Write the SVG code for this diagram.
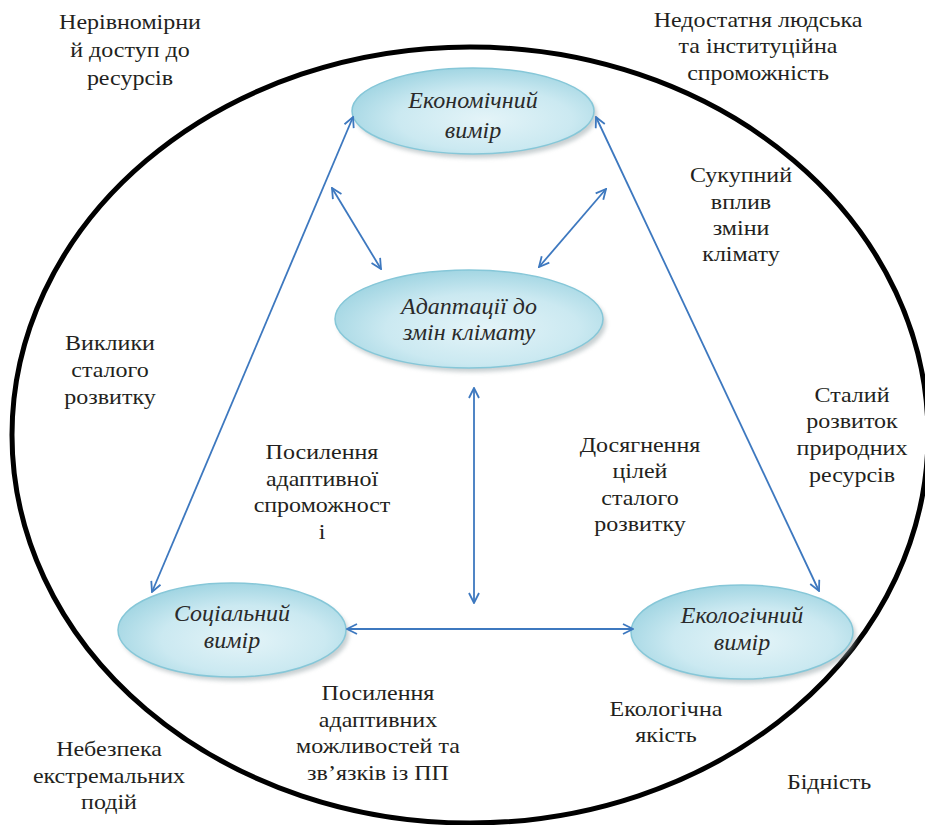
<svg xmlns="http://www.w3.org/2000/svg" width="925" height="825" viewBox="0 0 925 825">
<defs>
<radialGradient id="g" cx="0.55" cy="0.6" r="0.6">
<stop offset="0" stop-color="#e4f4f8"/>
<stop offset="0.6" stop-color="#cbe9f1"/>
<stop offset="1" stop-color="#a3d6e3"/>
</radialGradient>
<filter id="b" x="-10%" y="-10%" width="120%" height="130%"><feGaussianBlur stdDeviation="2"/></filter>
<marker id="a" viewBox="0 0 12 12" refX="11" refY="6" markerWidth="12" markerHeight="12" markerUnits="userSpaceOnUse" orient="auto-start-reverse">
<path d="M1,1 L11,6 L1,11" fill="none" stroke="#3d78bf" stroke-width="1.8"/>
</marker>
</defs>
<rect width="925" height="825" fill="#fff"/>
<ellipse cx="470" cy="435" rx="458" ry="388" fill="none" stroke="#000" stroke-width="5"/>

<g id="labels" font-family="Liberation Serif" font-size="20" fill="#231f20" text-anchor="middle" transform="scale(1.2,1)">
<text x="108.33" y="29">Нерівномірни</text>
<text x="108.33" y="57">й доступ до</text>
<text x="108.33" y="85">ресурсів</text>
<text x="631.67" y="27">Недостатня людська</text>
<text x="631.67" y="53">та інституційна</text>
<text x="631.67" y="80">спроможність</text>
<text x="617.5" y="182">Сукупний</text>
<text x="617.5" y="209">вплив</text>
<text x="617.5" y="235">зміни</text>
<text x="617.5" y="261">клімату</text>
<text x="91.67" y="350">Виклики</text>
<text x="91.67" y="377">сталого</text>
<text x="91.67" y="404">розвитку</text>
<text x="268.33" y="459">Посилення</text>
<text x="268.33" y="486">адаптивної</text>
<text x="268.33" y="512">спроможност</text>
<text x="268.33" y="539">і</text>
<text x="533.33" y="452">Досягнення</text>
<text x="533.33" y="478">цілей</text>
<text x="533.33" y="505">сталого</text>
<text x="533.33" y="531">розвитку</text>
<text x="710" y="402">Сталий</text>
<text x="710" y="428">розвиток</text>
<text x="710" y="455">природних</text>
<text x="710" y="482">ресурсів</text>
<text x="315" y="700">Посилення</text>
<text x="315" y="727">адаптивних</text>
<text x="315" y="753">можливостей та</text>
<text x="315" y="780">зв’язків із ПП</text>
<text x="555" y="716">Екологічна</text>
<text x="555" y="742">якість</text>
<text x="90.83" y="756">Небезпека</text>
<text x="90.83" y="783">екстремальних</text>
<text x="90.83" y="809">подій</text>
<text x="690.83" y="789">Бідність</text>
</g>

<g id="econ">
<ellipse cx="476" cy="115" rx="121" ry="43" fill="#9aa7ab" opacity="0.55" filter="url(#b)"/>
<ellipse cx="473" cy="111" rx="121" ry="43" fill="url(#g)" stroke="#86c7d8" stroke-width="1.5"/>
<text font-family="Liberation Serif" font-size="24" font-style="italic" fill="#2a2a2a" text-anchor="middle" x="473" y="108">Економічний</text>
<text font-family="Liberation Serif" font-size="24" font-style="italic" fill="#2a2a2a" text-anchor="middle" x="473" y="138">вимір</text>
</g>
<g id="adapt">
<ellipse cx="472" cy="323" rx="134" ry="49" fill="#9aa7ab" opacity="0.55" filter="url(#b)"/>
<ellipse cx="469" cy="319" rx="134" ry="49" fill="url(#g)" stroke="#86c7d8" stroke-width="1.5"/>
<text font-family="Liberation Serif" font-size="24" font-style="italic" fill="#2a2a2a" text-anchor="middle" x="469" y="314">Адаптації до</text>
<text font-family="Liberation Serif" font-size="24" font-style="italic" fill="#2a2a2a" text-anchor="middle" x="469" y="340">змін клімату</text>
</g>
<g id="social">
<ellipse cx="235" cy="634" rx="114" ry="47" fill="#9aa7ab" opacity="0.55" filter="url(#b)"/>
<ellipse cx="232" cy="630" rx="114" ry="47" fill="url(#g)" stroke="#86c7d8" stroke-width="1.5"/>
<text font-family="Liberation Serif" font-size="24" font-style="italic" fill="#2a2a2a" text-anchor="middle" x="232" y="621">Соціальний</text>
<text font-family="Liberation Serif" font-size="24" font-style="italic" fill="#2a2a2a" text-anchor="middle" x="232" y="648">вимір</text>
</g>
<g id="eco">
<ellipse cx="745" cy="636" rx="111" ry="47" fill="#9aa7ab" opacity="0.55" filter="url(#b)"/>
<ellipse cx="742" cy="632" rx="111" ry="47" fill="url(#g)" stroke="#86c7d8" stroke-width="1.5"/>
<text font-family="Liberation Serif" font-size="24" font-style="italic" fill="#2a2a2a" text-anchor="middle" x="742" y="623">Екологічний</text>
<text font-family="Liberation Serif" font-size="24" font-style="italic" fill="#2a2a2a" text-anchor="middle" x="742" y="650">вимір</text>
</g>

<g id="connectors" stroke="#3d78bf" stroke-width="1.8" fill="none" marker-start="url(#a)" marker-end="url(#a)">
<line x1="353" y1="117" x2="152" y2="592"/>
<line x1="596" y1="117" x2="819" y2="591"/>
<line x1="332" y1="188" x2="381" y2="269"/>
<line x1="606" y1="189" x2="539" y2="267"/>
<line x1="474" y1="388" x2="474" y2="603"/>
<line x1="347" y1="629" x2="633" y2="629"/>
</g>
</svg>
